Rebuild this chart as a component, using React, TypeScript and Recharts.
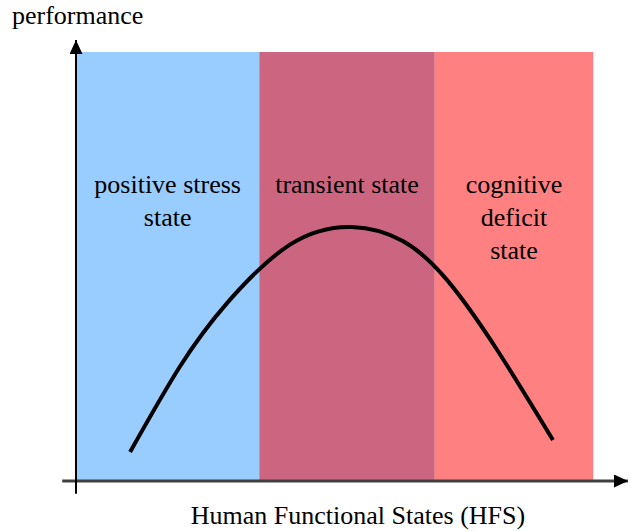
import { ComposedChart, Line, XAxis, YAxis, ReferenceArea, ReferenceLine } from 'recharts'

// human functional states (x, 0-100) vs performance (y, 0-100)
const hfs = [9.8, 18.8, 27.4, 38.9, 50.0, 59.2, 67.2, 76.3, 86.4]
const performance = [6.6, 25.9, 40.4, 53.7, 57.6, 54.4, 45.6, 29.7, 9.3]

// the three state bands
const stateNames = [['positive stress', 'state'], ['transient state'], ['cognitive', 'deficit', 'state']]
const stateStart = [0, 33.2, 65.0]
const stateEnd = [33.2, 65.0, 93.7]
const stateColors = ['#99CCFF', '#CC6680', '#FF8080']
const stateTop = 97.3

const FONT = "'Liberation Serif', Tinos, 'DejaVu Serif', serif"

const data = hfs.map((x, i) => ({ hfs: x, perf: performance[i] }))

const stateLabel = (lines: string[]) => (props: any) => {
  const vb = props.viewBox
  if (!vb) return null
  const cx = vb.x + vb.width / 2
  return (
    <text x={cx} y={vb.y + 141} textAnchor="middle" style={{ fontFamily: FONT, fontSize: 26 }} fill="#000">
      {lines.map((line, i) => (
        <tspan key={i} x={cx} dy={i === 0 ? 0 : 33}>
          {line}
        </tspan>
      ))}
    </text>
  )
}

export default function App() {
  return (
    <div style={{ position: 'absolute', left: 0, top: 0, width: 632, height: 531, background: '#fff', fontFamily: FONT }}>
      <svg width={0} height={0} style={{ position: 'absolute' }}>
        <defs>
          <marker id="arrowHead" markerUnits="userSpaceOnUse" markerWidth={14} markerHeight={13} refX={14} refY={6.5} orient="auto">
            <path d="M0,0 L14,6.5 L0,13 z" fill="#000" />
          </marker>
        </defs>
      </svg>
      <ComposedChart width={632} height={531} data={data} margin={{ top: 40, right: 4, bottom: 50, left: 76 }}>
        <XAxis type="number" dataKey="hfs" domain={[0, 100]} hide />
        <YAxis type="number" domain={[0, 100]} hide />
        {stateNames.map((lines, i) => (
          <ReferenceArea
            key={i}
            x1={stateStart[i]}
            x2={stateEnd[i]}
            y1={0}
            y2={stateTop}
            fill={stateColors[i]}
            fillOpacity={1}
            stroke="none"
            label={stateLabel(lines)}
          />
        ))}
        <Line
          type="natural"
          dataKey="perf"
          stroke="#000"
          strokeWidth={4}
          dot={false}
          activeDot={false}
          isAnimationActive={false}
        />
        <ReferenceLine
          segment={[{ x: -2.5, y: 0 }, { x: 100, y: 0 }]}
          stroke="#404040"
          strokeWidth={3}
          markerEnd="url(#arrowHead)"
          ifOverflow="visible"
        />
        <ReferenceLine
          segment={[{ x: 0, y: -2.9 }, { x: 0, y: 100 }]}
          stroke="#000"
          strokeWidth={2}
          markerEnd="url(#arrowHead)"
          ifOverflow="visible"
        />
      </ComposedChart>
      <div style={{ position: 'absolute', left: 12, top: 0, fontFamily: FONT, fontSize: 26, lineHeight: '32px', color: '#000' }}>
        performance
      </div>
      <div style={{ position: 'absolute', left: 0, width: 716, top: 500, textAlign: 'center', fontFamily: FONT, fontSize: 26, lineHeight: '32px', color: '#000' }}>
        Human Functional States (HFS)
      </div>
    </div>
  )
}
